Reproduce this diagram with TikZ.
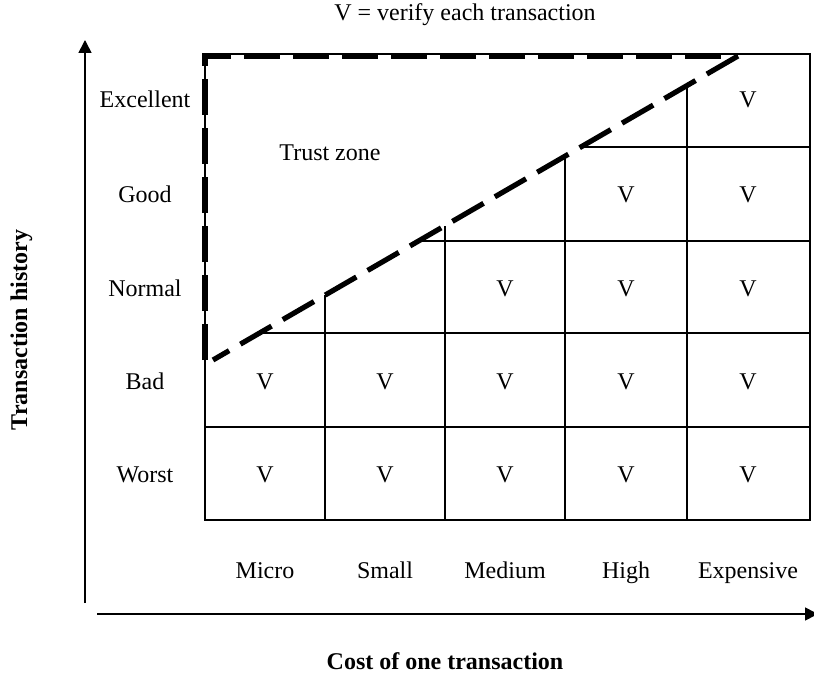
\documentclass[tikz,border=0pt]{standalone}
\usepackage{fontspec}
\setmainfont{Liberation Serif}
\usetikzlibrary{arrows.meta}
\begin{document}
\begin{tikzpicture}[x=0.5pt,y=-0.5pt,
  gridline/.style={line width=0.75pt},
  zone/.style={line width=2.6pt, dash pattern=on 18pt off 6.5pt},
  axis/.style={line width=0.8pt,-{Triangle[width=6.5pt,length=6.5pt]}},
  lbl/.style={font=\fontsize{12}{14}\selectfont, inner sep=0pt, text height=8.5pt, text depth=2.5pt},
  ttl/.style={font=\fontsize{12}{14}\selectfont\bfseries, inner sep=0pt, text height=8.5pt, text depth=2.5pt}]
\useasboundingbox (0,0) rectangle (814,674);

% grid
\draw[gridline] (205,54) -- (810,54) -- (810,520) -- (205,520) -- cycle;
\draw[gridline] (582,147) -- (810,147);
\draw[gridline] (419.2,241) -- (810,241);
\draw[gridline] (259.8,333) -- (810,333);
\draw[gridline] (205,427) -- (810,427);
\draw[gridline] (325,295.4) -- (325,520);
\draw[gridline] (445,226.1) -- (445,520);
\draw[gridline] (565,156.9) -- (565,520);
\draw[gridline] (687,86.5) -- (687,520);

% trust zone
\coordinate (zA) at (205,360);
\coordinate (zB) at (205,56);
\coordinate (zC) at (738,56);
\coordinate (zD) at (213,360);
\draw[zone] (zA) -- (zB) -- (zC);
\draw[zone] (zC) -- (zD);

% axes
\coordinate (ya0) at (85,603);
\coordinate (ya1) at (85,40);
\coordinate (xa0) at (97,614);
\coordinate (xa1) at (818,614);
\draw[axis] (ya0) -- (ya1);
\draw[axis] (xa0) -- (xa1);

% texts
\node[lbl] (title) at (465,15) {V = verify each transaction};
\node[ttl, rotate=90] (ylab) at (21,330) {Transaction history};
\node[ttl] (xlab) at (445,663) {Cost of one transaction};
\node[lbl] (trust) at (330,155) {Trust zone};

\node[lbl] (r1) at (145,102) {Excellent};
\node[lbl] (r2) at (145,196) {Good};
\node[lbl] (r3) at (145,290) {Normal};
\node[lbl] (r4) at (145,383) {Bad};
\node[lbl] (r5) at (145,476) {Worst};

\node[lbl] (c1) at (265,572) {Micro};
\node[lbl] (c2) at (385,572) {Small};
\node[lbl] (c3) at (505,572) {Medium};
\node[lbl] (c4) at (626,572) {High};
\node[lbl] (c5) at (748,572) {Expensive};

\node[lbl] (v15) at (748,102) {V};
\node[lbl] (v24) at (626,196) {V};
\node[lbl] (v25) at (748,196) {V};
\node[lbl] (v33) at (505,290) {V};
\node[lbl] (v34) at (626,290) {V};
\node[lbl] (v35) at (748,290) {V};
\foreach \cx [count=\i] in {265,385,505,626,748} {
  \node[lbl] (v4\i) at (\cx,383) {V};
  \node[lbl] (v5\i) at (\cx,476) {V};
}
\end{tikzpicture}
\end{document}
